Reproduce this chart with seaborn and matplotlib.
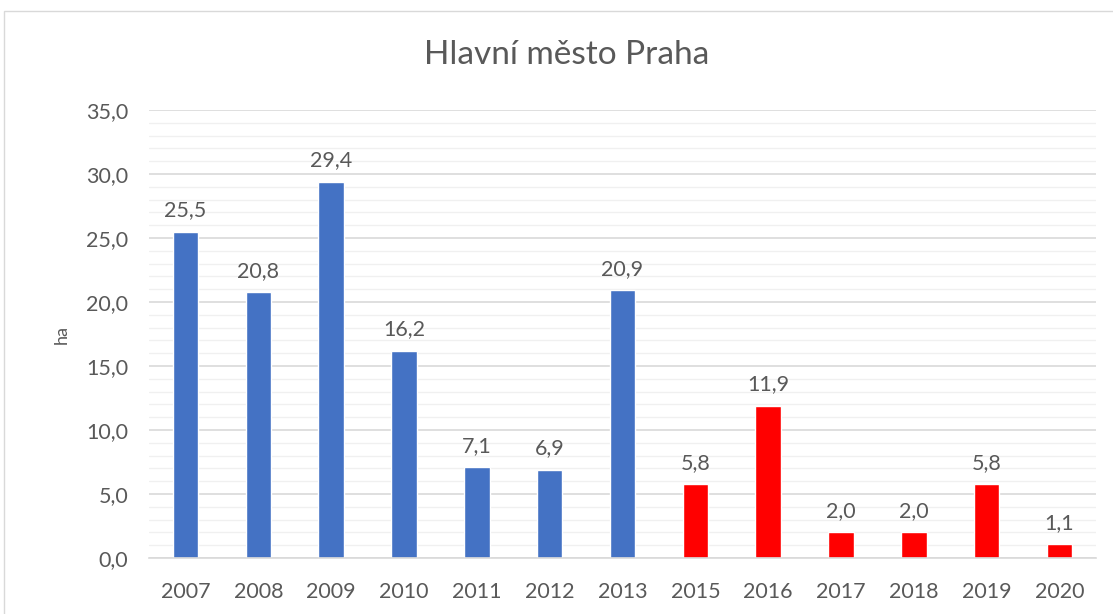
import matplotlib.pyplot as plt
import matplotlib.patches as mpatches
import pandas as pd
import seaborn as sns

years = ["2007", "2008", "2009", "2010", "2011", "2012", "2013",
         "2015", "2016", "2017", "2018", "2019", "2020"]
values = [25.5, 20.8, 29.4, 16.2, 7.1, 6.9, 20.9, 5.8, 11.9, 2.0, 2.0, 5.8, 1.1]
groups = ["a"] * 7 + ["b"] * 6
colors = {"a": "#4472C4", "b": "#FF0000"}

TEXT = "#595959"


def fmt(v):
    return f"{v:.1f}".replace(".", ",")


def main() -> None:
    sns.set_theme(style="white")
    plt.rcParams["font.family"] = ["Lato", "DejaVu Sans"]

    df = pd.DataFrame({"year": years, "value": values, "group": groups})

    fig = plt.figure(figsize=(11.13, 6.14), dpi=100)
    ax = fig.add_axes([0.1339, 0.0912, 0.8508, 0.7296])

    sns.barplot(data=df, x="year", y="value", hue="group", palette=colors,
                dodge=False, width=0.35, legend=False, ax=ax, saturation=1)

    for x, v in enumerate(values):
        ax.annotate(fmt(v), (x, v), xytext=(0, 8), textcoords="offset points",
                    ha="center", va="bottom", fontsize=15.5, color=TEXT)

    ax.set_ylim(0, 35)
    ax.set_xlim(-0.5, len(years) - 0.5)
    ax.set_yticks(range(0, 36, 5))
    ax.set_yticks(range(0, 36, 1), minor=True)
    ax.set_yticklabels([fmt(t) for t in range(0, 36, 5)])
    ax.grid(axis="y", which="major", color="#D9D9D9", linewidth=1.2)
    ax.grid(axis="y", which="minor", color="#F0F0F0", linewidth=1.0)
    ax.set_axisbelow(True)
    for s in ["top", "right", "left"]:
        ax.spines[s].set_visible(False)
    ax.spines["bottom"].set_color("#D9D9D9")
    ax.spines["bottom"].set_linewidth(1.2)
    ax.tick_params(axis="both", which="both", length=0, labelsize=15.5,
                   labelcolor=TEXT)
    ax.tick_params(axis="y", pad=15)
    ax.tick_params(axis="x", pad=17)
    ax.set_xlabel("")
    ax.set_ylabel("ha", fontsize=13, color=TEXT, labelpad=12)

    fig.text(567 / 1113, 1 - 55 / 614, "Hlavní město Praha", fontsize=24,
             color=TEXT, ha="center", va="center")

    fig.patches.append(mpatches.Rectangle(
        (4 / 1113, -0.05), 1.05, 1.05 - 11 / 614, transform=fig.transFigure,
        fill=False, edgecolor="#D9D9D9", linewidth=1.0))

    fig.savefig("out.png", dpi=100)


if __name__ == "__main__":
    main()
